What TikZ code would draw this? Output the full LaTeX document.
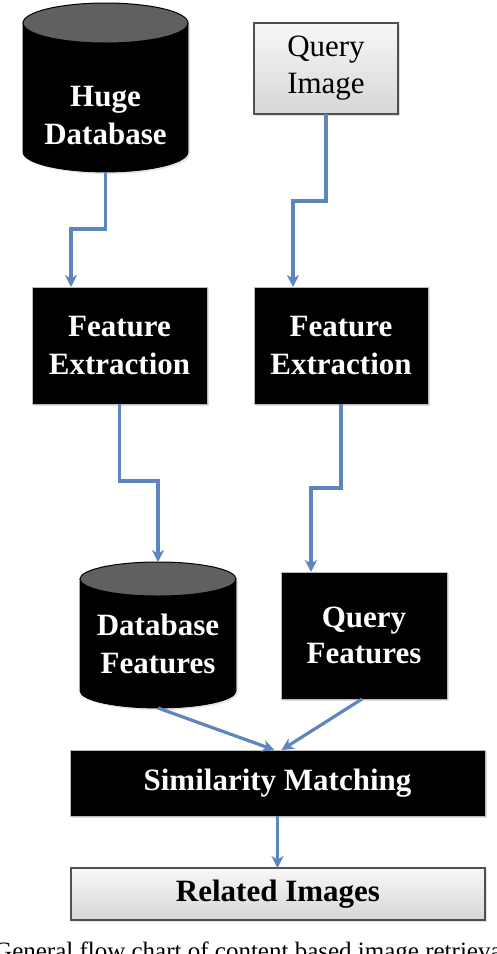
\documentclass[tikz,border=0pt]{standalone}
\usepackage{fontspec}
\setmainfont{Liberation Serif}
\usetikzlibrary{arrows.meta,shadows,calc}
\definecolor{arrowblue}{RGB}{95,133,190}
\definecolor{cyltop}{RGB}{96,96,96}
\definecolor{boxedge}{RGB}{80,80,80}
\newcommand\drawcyl[5]{%
  \pgfmathsetmacro\cylrx{(#2-#1)/2}%
  \fill[gray!40,opacity=0.5] ({#1+2},{-#3-#5-2}) -- ({#1+2},{-#4+#5-2}) arc[start angle=180,end angle=360,x radius=\cylrx,y radius=#5] -- ({#2+2},{-#3-#5-2}) -- cycle;
  \filldraw[fill=black,draw=black,line width=0.8pt] (#1,{-#3-#5}) -- (#1,{-#4+#5}) arc[start angle=180,end angle=360,x radius=\cylrx,y radius=#5] -- (#2,{-#3-#5}) -- cycle;
  \filldraw[fill=cyltop,draw=black,line width=1pt] ({(#1+#2)/2},{-#3-#5}) ellipse[x radius=\cylrx,y radius=#5];
}
\tikzset{
  wfont/.style={font=\fontsize{31}{38}\selectfont\bfseries},
  area/.style={inner sep=0pt, outer sep=0pt},
  wtext/.style={wfont, text=white, align=center, inner sep=0pt},
  darkbox/.style={draw=gray!55, line width=0.8pt, fill=black, text=white, wfont, align=center, inner sep=0pt, outer sep=0pt,
    drop shadow={opacity=0.25, shadow xshift=2pt, shadow yshift=-2pt}},
  lightbox/.style={draw=boxedge, line width=1.5pt, top color=gray!6, bottom color=gray!32, text=black, align=center, inner sep=0pt, outer sep=0pt,
    drop shadow={opacity=0.25, shadow xshift=2pt, shadow yshift=-2pt}},
  arr/.style={draw=arrowblue, line width=3.2pt, -{Stealth[length=12pt,width=12pt,inset=3.5pt]}},
}
\begin{document}
\begin{tikzpicture}[x=1pt,y=1pt]
\useasboundingbox (0,0) rectangle (496,-954);
\fill[white] (0,0) rectangle (496,-954);

% cylinders
\drawcyl{23}{188}{3}{172}{20}
\node[area, minimum width=165pt, minimum height=169pt] (hdb) at (105.5,-87.5) {};
\node[wtext] (hdbt) at (105.5,-115.5) {Huge\\Database};

\drawcyl{80}{236}{562}{708}{17}
\node[area, minimum width=156pt, minimum height=146pt] (dbf) at (158,-635) {};
\node[wtext] (dbft) at (158,-643.5) {Database\\Features};

% boxes
\node[lightbox, minimum width=144pt, minimum height=91pt, font=\fontsize{31}{37}\selectfont] (qi) at (326,-68.5) {Query\\Image};
\node[darkbox, minimum width=175pt, minimum height=117pt] (fe1) at (119.5,-345.5) {Feature\\Extraction};
\node[darkbox, minimum width=174pt, minimum height=117pt] (fe2) at (341,-345.5) {Feature\\Extraction};
\node[darkbox, minimum width=166pt, minimum height=127pt, font=\fontsize{31}{36}\selectfont\bfseries] (qf) at (364,-635.5) {Query\\Features};
\node[darkbox, minimum width=415pt, minimum height=66pt] (sm) at (277.5,-783) {Similarity Matching};
\node[lightbox, minimum width=414pt, minimum height=52pt, wfont] (ri) at (278,-894) {Related Images};

% connectors
\draw[arr] (hdb.south) -- ++(0,-57) -| ([xshift=-48.5pt]fe1.north);
\draw[arr] (qi.south) -- ++(0,-87) -| ([xshift=-48pt]fe2.north);
\draw[arr] (fe1.south) -- ++(0,-77) -| (dbf.north);
\draw[arr] (fe2.south) -- ++(0,-84) -| ([xshift=-53pt]qf.north);
\draw[arr] (dbf.south) -- ([xshift=-3pt]sm.north);
\draw[arr] ([xshift=-2pt]qf.south) -- ([xshift=4pt]sm.north);
\draw[arr] (sm.south) -- (sm.south |- ri.north);

% caption, cropped at the lower edge as in the reference
\node[anchor=base west, inner sep=0pt, font=\fontsize{25}{28}\selectfont] (cap) at (-6,-959) {General flow chart of content based image retrieval};
\end{tikzpicture}
\end{document}
